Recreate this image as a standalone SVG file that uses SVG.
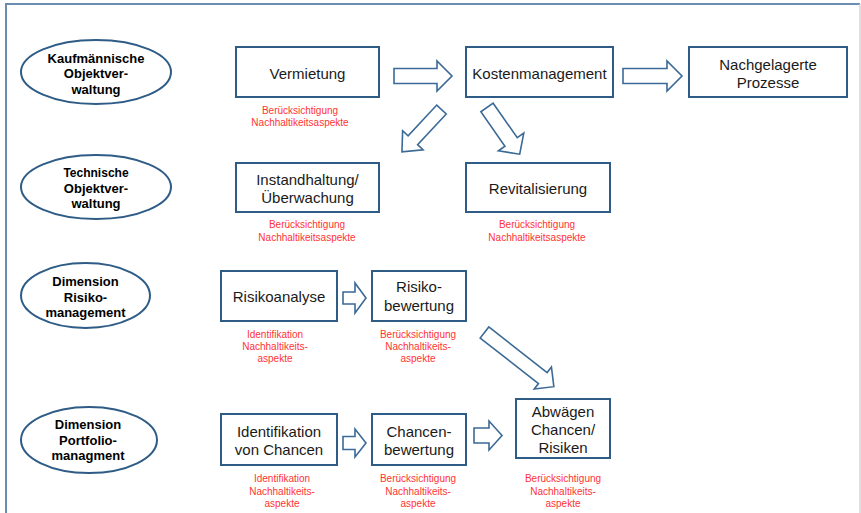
<svg xmlns="http://www.w3.org/2000/svg" width="861" height="513" viewBox="0 0 861 513">
<style>
.frame{fill:none;stroke:#6a8db0;stroke-width:2}
.frame2{fill:none;stroke:#d4d4d4;stroke-width:1.5}
.ell{fill:#fff;stroke:#2e5c86;stroke-width:2}
.box{fill:#fff;stroke:#2e5c86;stroke-width:2}
.arr{fill:#fff;stroke:#3b6a96;stroke-width:1.6;stroke-linejoin:miter}
.et{font-family:"Liberation Sans",Arial,sans-serif;font-weight:bold;font-size:13px;fill:#000;text-anchor:middle}
.bt{font-family:"Liberation Sans",Arial,sans-serif;font-size:15px;fill:#1a1a1a;text-anchor:middle}
.rt{font-family:"Liberation Sans",Arial,sans-serif;font-size:10px;fill:#ff3333;text-anchor:middle}
</style>
<rect width="861" height="513" fill="#fff"/>
<path class="frame" d="M6,513 V4 H860"/>
<path class="frame2" d="M860,4 V513"/>

<g id="ell-kaufm">
<ellipse class="ell" cx="96" cy="72" rx="75" ry="32"/>
<text class="et" x="96" y="62.5">Kaufmännische</text>
<text class="et" x="96" y="78">Objektver-</text>
<text class="et" x="96" y="93.5">waltung</text>
</g>
<g id="ell-tech">
<ellipse class="ell" cx="96" cy="187" rx="75" ry="32"/>
<text class="et" x="96" y="177" style="font-size:12px">Technische</text>
<text class="et" x="96" y="192.5">Objektver-</text>
<text class="et" x="96" y="208">waltung</text>
</g>
<g id="ell-risiko">
<ellipse class="ell" cx="85.5" cy="295.5" rx="64.5" ry="32.5"/>
<text class="et" x="85.5" y="285.5">Dimension</text>
<text class="et" x="85.5" y="301.5">Risiko-</text>
<text class="et" x="85.5" y="316.5">management</text>
</g>
<g id="ell-portfolio">
<ellipse class="ell" cx="89" cy="440" rx="68" ry="33"/>
<text class="et" x="88" y="428.5">Dimension</text>
<text class="et" x="88" y="444.5">Portfolio-</text>
<text class="et" x="88" y="459.5">managment</text>
</g>

<g id="vermietung">
<rect class="box" x="236" y="47" width="143" height="50"/>
<text class="bt" x="307.5" y="78.5">Vermietung</text>
<text class="rt" x="300" y="113.5">Berücksichtigung</text>
<text class="rt" x="300" y="126">Nachhaltikeitsaspekte</text>
</g>
<g id="kosten">
<rect class="box" x="466" y="47" width="147" height="50"/>
<text class="bt" x="539.5" y="78.5">Kostenmanagement</text>
</g>
<g id="nachgelagert">
<rect class="box" x="689" y="47" width="158" height="50"/>
<text class="bt" x="768" y="69.5">Nachgelagerte</text>
<text class="bt" x="768" y="87.5">Prozesse</text>
</g>
<g id="instandhaltung">
<rect class="box" x="236" y="163" width="143" height="49"/>
<text class="bt" x="307.5" y="184.5">Instandhaltung/</text>
<text class="bt" x="307.5" y="202.5">Überwachung</text>
<text class="rt" x="307" y="227.5">Berücksichtigung</text>
<text class="rt" x="307" y="240.5">Nachhaltikeitsaspekte</text>
</g>
<g id="revitalisierung">
<rect class="box" x="466" y="163" width="144" height="49"/>
<text class="bt" x="538" y="193.5">Revitalisierung</text>
<text class="rt" x="537" y="227.5">Berücksichtigung</text>
<text class="rt" x="537" y="240.5">Nachhaltikeitsaspekte</text>
</g>
<g id="risikoanalyse">
<rect class="box" x="221" y="271" width="116" height="50"/>
<text class="bt" x="279" y="301.5">Risikoanalyse</text>
<text class="rt" x="275" y="337.5">Identifikation</text>
<text class="rt" x="275" y="350">Nachhaltikeits-</text>
<text class="rt" x="275" y="362">aspekte</text>
</g>
<g id="risikobewertung">
<rect class="box" x="372" y="271" width="94" height="50"/>
<text class="bt" x="419" y="291.5">Risiko-</text>
<text class="bt" x="419" y="310.5">bewertung</text>
<text class="rt" x="418" y="337.5">Berücksichtigung</text>
<text class="rt" x="418" y="350">Nachhaltikeits-</text>
<text class="rt" x="418" y="362">aspekte</text>
</g>
<g id="identifikation">
<rect class="box" x="221" y="414" width="116" height="51"/>
<text class="bt" x="279" y="436.5">Identifikation</text>
<text class="bt" x="279" y="454.5">von Chancen</text>
<text class="rt" x="282" y="482">Identifikation</text>
<text class="rt" x="282" y="494.5">Nachhaltikeits-</text>
<text class="rt" x="282" y="506.5">aspekte</text>
</g>
<g id="chancenbewertung">
<rect class="box" x="372" y="414" width="94" height="51"/>
<text class="bt" x="419" y="436.5">Chancen-</text>
<text class="bt" x="419" y="454.5">bewertung</text>
<text class="rt" x="418" y="482">Berücksichtigung</text>
<text class="rt" x="418" y="494.5">Nachhaltikeits-</text>
<text class="rt" x="418" y="506.5">aspekte</text>
</g>
<g id="abwaegen">
<rect class="box" x="516" y="399" width="94" height="59"/>
<text class="bt" x="563" y="416.5">Abwägen</text>
<text class="bt" x="563" y="434.5">Chancen/</text>
<text class="bt" x="563" y="453">Risiken</text>
<text class="rt" x="563" y="482">Berücksichtigung</text>
<text class="rt" x="563" y="494.5">Nachhaltikeits-</text>
<text class="rt" x="563" y="506.5">aspekte</text>
</g>

<g id="connectors">
<path class="arr" d="M394,68.5 H437 V61 L452,76 L437,91 V83.5 H394 Z"/>
<path class="arr" d="M623,68.5 H667 V61 L682,76 L667,91 V83.5 H623 Z"/>
<path class="arr" transform="translate(441.5,109.5) rotate(133)" d="M0,-6.5 L42,-6.5 L42,-14 L58,0 L42,14 L42,6.5 L0,6.5 Z"/>
<path class="arr" transform="translate(487,107.5) rotate(55)" d="M0,-7.5 L42,-7.5 L42,-15.5 L57,0 L42,15.5 L42,7.5 L0,7.5 Z"/>
<path class="arr" d="M343,292 H355 V283 L366,298 L355,313 V304 H343 Z"/>
<path class="arr" d="M343,436.5 H355 V429 L366,443 L355,457 V449.5 H343 Z"/>
<path class="arr" d="M474,428 H489 V421 L502,435.5 L489,450 V443 H474 Z"/>
<path class="arr" transform="translate(484.5,332.5) rotate(38)" d="M0,-7 L74,-7 L74,-14 L88,0 L74,14 L74,7 L0,7 Z"/>
</g>
</svg>
